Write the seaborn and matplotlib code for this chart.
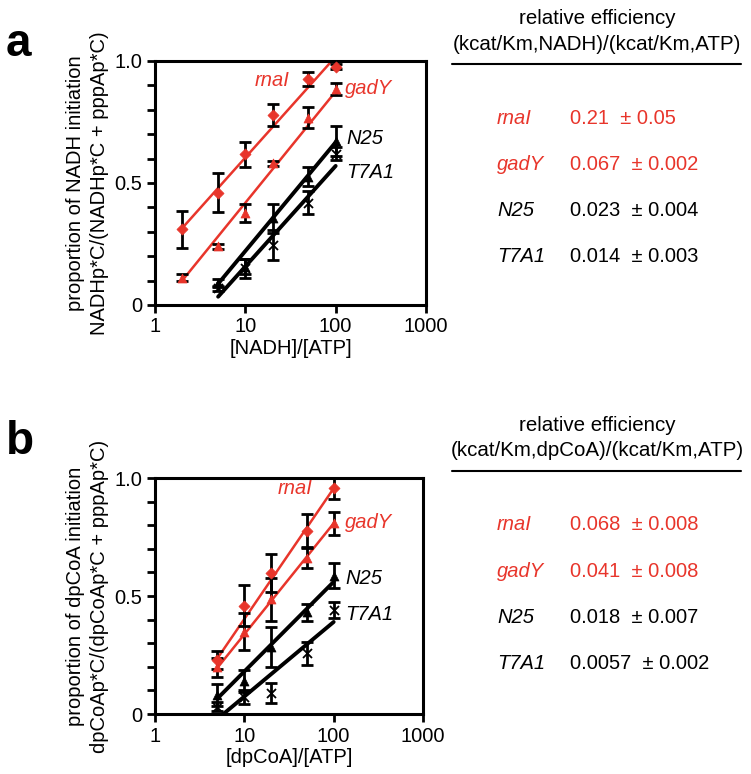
import numpy as np
import pandas as pd
import matplotlib
matplotlib.use("Agg")
import matplotlib.pyplot as plt
import seaborn as sns
from matplotlib.ticker import FixedLocator, FixedFormatter, NullLocator

names = ["rnaI", "gadY", "N25", "T7A1"]
red = "#e8352b"

# panel a, [NADH]/[ATP]
a_x_red = [2, 5, 10, 20, 50, 100]
a_x_black = [5, 10, 20, 50, 100]
a_rnaI = [0.31, 0.46, 0.617, 0.78, 0.926, 0.977]
a_rnaI_err = [0.075, 0.08, 0.05, 0.045, 0.03, 0.01]
a_gadY = [0.112, 0.24, 0.378, 0.58, 0.768, 0.885]
a_gadY_err = [0.015, 0.01, 0.036, 0.01, 0.044, 0.024]
a_N25 = [0.09, 0.157, 0.355, 0.526, 0.672]
a_N25_err = [0.015, 0.03, 0.058, 0.04, 0.06]
a_T7A1 = [0.068, 0.15, 0.246, 0.42, 0.62]
a_T7A1_err = [0.01, 0.04, 0.06, 0.048, 0.027]
# fitted line values at first and last x
a_fit_lo = [0.315, 0.10, 0.087, 0.034]
a_fit_hi = [1.018, 0.875, 0.667, 0.57]
a_eff = ["0.21", "0.067", "0.023", "0.014"]
a_eff_err = ["0.05", "0.002", "0.004", "0.003"]

# panel b, [dpCoA]/[ATP]
b_x = [5, 10, 20, 50, 100]
b_rnaI = [0.229, 0.459, 0.596, 0.777, 0.956]
b_rnaI_err = [0.04, 0.088, 0.08, 0.07, 0.046]
b_gadY = [0.198, 0.349, 0.486, 0.66, 0.808]
b_gadY_err = [0.04, 0.077, 0.09, 0.042, 0.05]
b_N25 = [0.08, 0.141, 0.283, 0.431, 0.585]
b_N25_err = [0.046, 0.046, 0.085, 0.035, 0.053]
b_T7A1 = [0.031, 0.073, 0.09, 0.257, 0.44]
b_T7A1_err = [0.02, 0.03, 0.042, 0.05, 0.035]
b_fit_lo = [0.236, 0.196, 0.066, -0.021]
b_fit_hi = [0.956, 0.808, 0.56, 0.39]
b_eff = ["0.068", "0.041", "0.018", "0.0057"]
b_eff_err = ["0.008", "0.008", "0.007", "0.002"]

y_ticks = [0, 0.1, 0.2, 0.3, 0.4, 0.5, 0.6, 0.7, 0.8, 0.9, 1.0]
y_ticklabels = ["0", "", "", "", "", "0.5", "", "", "", "", "1.0"]

colors = [red, red, "black", "black"]
markers = ["D", "^", "^", "x"]
msizes = [32, 42, 42, 42]
fit_lw = [1.8, 1.8, 2.8, 2.8]

sns.set_style("ticks")
plt.rcParams["font.family"] = ["Liberation Sans", "DejaVu Sans"]
for k in ["text.color", "axes.labelcolor", "xtick.color", "ytick.color", "axes.edgecolor"]:
    plt.rcParams[k] = "black"
plt.rcParams["xtick.bottom"] = True
plt.rcParams["ytick.left"] = True

W, H = 751, 774
fig = plt.figure(figsize=(W / 100, H / 100), dpi=100)
FS = 14.5


def px_ax(l, t, r, b):
    return fig.add_axes([l / W, 1 - b / H, (r - l) / W, (b - t) / H])


def ftext(x, y, s, **kw):
    fig.text(x / W, 1 - y / H, s, **kw)


def draw_panel(ax, xs, ys, errs, lo, hi, xlabel, ylabel):
    for i, name in enumerate(names):
        x = np.array(xs[i], dtype=float)
        line = pd.DataFrame({"x": [x[0], x[-1]], "y": [lo[i], hi[i]]})
        sns.lineplot(data=line, x="x", y="y", ax=ax, color=colors[i],
                     lw=fit_lw[i], zorder=2)
        ax.errorbar(x, ys[i], yerr=errs[i], fmt="none", ecolor="black",
                    elinewidth=2, capsize=4, capthick=2, zorder=3)
        pts = pd.DataFrame({"x": x, "y": ys[i]})
        sns.scatterplot(data=pts, x="x", y="y", ax=ax, color=colors[i],
                        marker=markers[i], s=msizes[i],
                        edgecolor=colors[i] if markers[i] != "x" else None,
                        linewidth=1.3 if markers[i] == "x" else 0.5, zorder=4)
    ax.set_xscale("log")
    ax.set_xlim(1, 1000)
    ax.set_ylim(0, 1.0)
    ax.xaxis.set_major_locator(FixedLocator([1, 10, 100, 1000]))
    ax.xaxis.set_major_formatter(FixedFormatter(["1", "10", "100", "1000"]))
    ax.xaxis.set_minor_locator(NullLocator())
    ax.yaxis.set_major_locator(FixedLocator(y_ticks))
    ax.yaxis.set_major_formatter(FixedFormatter(y_ticklabels))
    ax.yaxis.set_minor_locator(NullLocator())
    ax.tick_params(which="major", direction="out", length=6, width=2.0,
                   labelsize=FS, pad=3, colors="black",
                   left=True, bottom=True, right=False, top=False)
    for sp in ax.spines.values():
        sp.set_linewidth(2.2)
        sp.set_visible(True)
        sp.set_color("black")
    ax.set_xlabel(xlabel, fontsize=FS, labelpad=2)
    ax.set_ylabel(ylabel, fontsize=FS, labelpad=4, linespacing=1.35)


def draw_table(top, eff, eff_err, norm):
    ftext(597, top, "relative efficiency", fontsize=FS + 0.3, ha="center", va="center")
    ftext(597, top + 26, f"(kcat/Km,{norm})/(kcat/Km,ATP)", fontsize=FS + 0.3,
          ha="center", va="center")
    fig.add_artist(plt.Line2D([452 / W, 741 / W], [1 - (top + 46) / H] * 2,
                              color="black", lw=1.5))
    for i, name in enumerate(names):
        y = top + 100 + 46.3 * i
        ftext(497, y, name, fontsize=FS, style="italic", color=colors[i],
              va="center")
        ftext(570, y, f"{eff[i]}  \u00b1 {eff_err[i]}", fontsize=FS,
              color=colors[i], va="center")


# panel a
ax_a = px_ax(155, 61, 426, 305)
draw_panel(ax_a, [a_x_red, a_x_red, a_x_black, a_x_black],
           [a_rnaI, a_gadY, a_N25, a_T7A1],
           [a_rnaI_err, a_gadY_err, a_N25_err, a_T7A1_err],
           a_fit_lo, a_fit_hi, "[NADH]/[ATP]",
           "proportion of NADH initiation\nNADHp*C/(NADHp*C + pppAp*C)")
ftext(290, 80, "rnaI", fontsize=FS, style="italic", color=red, ha="right", va="center")
ftext(345, 89, "gadY", fontsize=FS, style="italic", color=red, va="center")
ftext(346, 138, "N25", fontsize=FS, style="italic", va="center")
ftext(346, 173, "T7A1", fontsize=FS, style="italic", va="center")
ftext(6, 56, "a", fontsize=33, fontweight="bold")
draw_table(18, a_eff, a_eff_err, "NADH")

# panel b
ax_b = px_ax(155, 478, 423, 714)
draw_panel(ax_b, [b_x] * 4,
           [b_rnaI, b_gadY, b_N25, b_T7A1],
           [b_rnaI_err, b_gadY_err, b_N25_err, b_T7A1_err],
           b_fit_lo, b_fit_hi, "[dpCoA]/[ATP]",
           "proportion of dpCoA initiation\ndpCoAp*C/(dpCoAp*C + pppAp*C)")
ftext(313, 488, "rnaI", fontsize=FS, style="italic", color=red, ha="right", va="center")
ftext(345, 522, "gadY", fontsize=FS, style="italic", color=red, va="center")
ftext(345, 578, "N25", fontsize=FS, style="italic", va="center")
ftext(345, 615, "T7A1", fontsize=FS, style="italic", va="center")
ftext(6, 454, "b", fontsize=33, fontweight="bold")
draw_table(425, b_eff, b_eff_err, "dpCoA")

fig.savefig("out.png", dpi=100)
